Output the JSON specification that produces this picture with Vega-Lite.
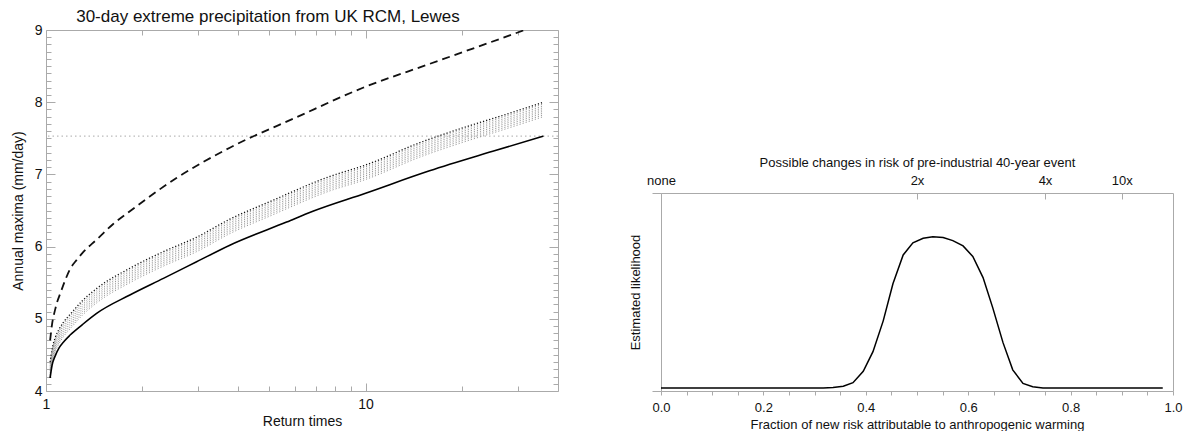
{
  "$schema": "https://vega.github.io/schema/vega-lite/v6.json",
  "padding": {"left": 11, "top": 8, "right": 0, "bottom": 0},
  "spacing": 70,
  "config": {
    "view": {"stroke": null},
    "font": "Liberation Sans",
    "axis": {"domainColor": "#aaaaaa", "tickColor": "#aaaaaa", "labelColor": "#111111", "titleColor": "#111111", "labelFont": "Liberation Sans", "titleFont": "Liberation Sans", "titleFontWeight": "normal", "grid": false}
  },
  "datasets": {
    "solid": [
      {"T": 1.03, "y": 4.18}, {"T": 1.045, "y": 4.36}, {"T": 1.067, "y": 4.48}, {"T": 1.1, "y": 4.6},
      {"T": 1.14, "y": 4.69}, {"T": 1.19, "y": 4.775}, {"T": 1.3, "y": 4.92}, {"T": 1.44, "y": 5.075},
      {"T": 1.83, "y": 5.33}, {"T": 2.33, "y": 5.56}, {"T": 2.96, "y": 5.79}, {"T": 3.76, "y": 6.02},
      {"T": 5.66, "y": 6.34}, {"T": 6.84, "y": 6.49}, {"T": 10, "y": 6.74}, {"T": 15.85, "y": 7.05},
      {"T": 25, "y": 7.32}, {"T": 36, "y": 7.53}
    ],
    "dashed": [
      {"T": 1.03, "y": 4.7}, {"T": 1.045, "y": 4.93}, {"T": 1.067, "y": 5.12}, {"T": 1.085, "y": 5.24},
      {"T": 1.106, "y": 5.34}, {"T": 1.147, "y": 5.53}, {"T": 1.19, "y": 5.69}, {"T": 1.25, "y": 5.82},
      {"T": 1.305, "y": 5.92}, {"T": 1.443, "y": 6.1}, {"T": 1.62, "y": 6.31}, {"T": 1.83, "y": 6.49},
      {"T": 2.56, "y": 6.95}, {"T": 3.76, "y": 7.37}, {"T": 6.07, "y": 7.79}, {"T": 9.81, "y": 8.2},
      {"T": 15.85, "y": 8.53}, {"T": 31, "y": 8.99}, {"T": 40, "y": 9.17}
    ],
    "upper": [
      {"T": 1.03, "y": 4.4}, {"T": 1.045, "y": 4.58}, {"T": 1.067, "y": 4.73}, {"T": 1.1, "y": 4.86},
      {"T": 1.133, "y": 4.95}, {"T": 1.2, "y": 5.08}, {"T": 1.3, "y": 5.25}, {"T": 1.44, "y": 5.42},
      {"T": 1.83, "y": 5.7}, {"T": 2.33, "y": 5.93}, {"T": 2.96, "y": 6.13}, {"T": 3.76, "y": 6.38},
      {"T": 5.0, "y": 6.62}, {"T": 7.71, "y": 6.97}, {"T": 10, "y": 7.13}, {"T": 15, "y": 7.45},
      {"T": 20, "y": 7.64}, {"T": 27, "y": 7.82}, {"T": 36, "y": 8.0}
    ],
    "band": [
      {"m": 1, "T": 1.03, "y": 4.375}, {"m": 1, "T": 1.045, "y": 4.555}, {"m": 1, "T": 1.067, "y": 4.705}, {"m": 1, "T": 1.1, "y": 4.835}, {"m": 1, "T": 1.133, "y": 4.925}, {"m": 1, "T": 1.2, "y": 5.055}, {"m": 1, "T": 1.3, "y": 5.225}, {"m": 1, "T": 1.44, "y": 5.395}, {"m": 1, "T": 1.83, "y": 5.675}, {"m": 1, "T": 2.33, "y": 5.905}, {"m": 1, "T": 2.96, "y": 6.105}, {"m": 1, "T": 3.76, "y": 6.355}, {"m": 1, "T": 5.0, "y": 6.595}, {"m": 1, "T": 7.71, "y": 6.945}, {"m": 1, "T": 10, "y": 7.105}, {"m": 1, "T": 15, "y": 7.425}, {"m": 1, "T": 20, "y": 7.615}, {"m": 1, "T": 27, "y": 7.795}, {"m": 1, "T": 36, "y": 7.975},
      {"m": 2, "T": 1.03, "y": 4.35}, {"m": 2, "T": 1.045, "y": 4.53}, {"m": 2, "T": 1.067, "y": 4.68}, {"m": 2, "T": 1.1, "y": 4.81}, {"m": 2, "T": 1.133, "y": 4.9}, {"m": 2, "T": 1.2, "y": 5.03}, {"m": 2, "T": 1.3, "y": 5.2}, {"m": 2, "T": 1.44, "y": 5.37}, {"m": 2, "T": 1.83, "y": 5.65}, {"m": 2, "T": 2.33, "y": 5.88}, {"m": 2, "T": 2.96, "y": 6.08}, {"m": 2, "T": 3.76, "y": 6.33}, {"m": 2, "T": 5.0, "y": 6.57}, {"m": 2, "T": 7.71, "y": 6.92}, {"m": 2, "T": 10, "y": 7.08}, {"m": 2, "T": 15, "y": 7.4}, {"m": 2, "T": 20, "y": 7.59}, {"m": 2, "T": 27, "y": 7.77}, {"m": 2, "T": 36, "y": 7.95},
      {"m": 3, "T": 1.03, "y": 4.325}, {"m": 3, "T": 1.045, "y": 4.505}, {"m": 3, "T": 1.067, "y": 4.655}, {"m": 3, "T": 1.1, "y": 4.785}, {"m": 3, "T": 1.133, "y": 4.875}, {"m": 3, "T": 1.2, "y": 5.005}, {"m": 3, "T": 1.3, "y": 5.175}, {"m": 3, "T": 1.44, "y": 5.345}, {"m": 3, "T": 1.83, "y": 5.625}, {"m": 3, "T": 2.33, "y": 5.855}, {"m": 3, "T": 2.96, "y": 6.055}, {"m": 3, "T": 3.76, "y": 6.305}, {"m": 3, "T": 5.0, "y": 6.545}, {"m": 3, "T": 7.71, "y": 6.895}, {"m": 3, "T": 10, "y": 7.055}, {"m": 3, "T": 15, "y": 7.375}, {"m": 3, "T": 20, "y": 7.565}, {"m": 3, "T": 27, "y": 7.745}, {"m": 3, "T": 36, "y": 7.925},
      {"m": 4, "T": 1.03, "y": 4.3}, {"m": 4, "T": 1.045, "y": 4.48}, {"m": 4, "T": 1.067, "y": 4.63}, {"m": 4, "T": 1.1, "y": 4.76}, {"m": 4, "T": 1.133, "y": 4.85}, {"m": 4, "T": 1.2, "y": 4.98}, {"m": 4, "T": 1.3, "y": 5.15}, {"m": 4, "T": 1.44, "y": 5.32}, {"m": 4, "T": 1.83, "y": 5.6}, {"m": 4, "T": 2.33, "y": 5.83}, {"m": 4, "T": 2.96, "y": 6.03}, {"m": 4, "T": 3.76, "y": 6.28}, {"m": 4, "T": 5.0, "y": 6.52}, {"m": 4, "T": 7.71, "y": 6.87}, {"m": 4, "T": 10, "y": 7.03}, {"m": 4, "T": 15, "y": 7.35}, {"m": 4, "T": 20, "y": 7.54}, {"m": 4, "T": 27, "y": 7.72}, {"m": 4, "T": 36, "y": 7.9},
      {"m": 5, "T": 1.03, "y": 4.275}, {"m": 5, "T": 1.045, "y": 4.455}, {"m": 5, "T": 1.067, "y": 4.605}, {"m": 5, "T": 1.1, "y": 4.735}, {"m": 5, "T": 1.133, "y": 4.825}, {"m": 5, "T": 1.2, "y": 4.955}, {"m": 5, "T": 1.3, "y": 5.125}, {"m": 5, "T": 1.44, "y": 5.295}, {"m": 5, "T": 1.83, "y": 5.575}, {"m": 5, "T": 2.33, "y": 5.805}, {"m": 5, "T": 2.96, "y": 6.005}, {"m": 5, "T": 3.76, "y": 6.255}, {"m": 5, "T": 5.0, "y": 6.495}, {"m": 5, "T": 7.71, "y": 6.845}, {"m": 5, "T": 10, "y": 7.005}, {"m": 5, "T": 15, "y": 7.325}, {"m": 5, "T": 20, "y": 7.515}, {"m": 5, "T": 27, "y": 7.695}, {"m": 5, "T": 36, "y": 7.875},
      {"m": 6, "T": 1.03, "y": 4.25}, {"m": 6, "T": 1.045, "y": 4.43}, {"m": 6, "T": 1.067, "y": 4.58}, {"m": 6, "T": 1.1, "y": 4.71}, {"m": 6, "T": 1.133, "y": 4.8}, {"m": 6, "T": 1.2, "y": 4.93}, {"m": 6, "T": 1.3, "y": 5.1}, {"m": 6, "T": 1.44, "y": 5.27}, {"m": 6, "T": 1.83, "y": 5.55}, {"m": 6, "T": 2.33, "y": 5.78}, {"m": 6, "T": 2.96, "y": 5.98}, {"m": 6, "T": 3.76, "y": 6.23}, {"m": 6, "T": 5.0, "y": 6.47}, {"m": 6, "T": 7.71, "y": 6.82}, {"m": 6, "T": 10, "y": 6.98}, {"m": 6, "T": 15, "y": 7.3}, {"m": 6, "T": 20, "y": 7.49}, {"m": 6, "T": 27, "y": 7.67}, {"m": 6, "T": 36, "y": 7.85},
      {"m": 7, "T": 1.03, "y": 4.225}, {"m": 7, "T": 1.045, "y": 4.405}, {"m": 7, "T": 1.067, "y": 4.555}, {"m": 7, "T": 1.1, "y": 4.685}, {"m": 7, "T": 1.133, "y": 4.775}, {"m": 7, "T": 1.2, "y": 4.905}, {"m": 7, "T": 1.3, "y": 5.075}, {"m": 7, "T": 1.44, "y": 5.245}, {"m": 7, "T": 1.83, "y": 5.525}, {"m": 7, "T": 2.33, "y": 5.755}, {"m": 7, "T": 2.96, "y": 5.955}, {"m": 7, "T": 3.76, "y": 6.205}, {"m": 7, "T": 5.0, "y": 6.445}, {"m": 7, "T": 7.71, "y": 6.795}, {"m": 7, "T": 10, "y": 6.955}, {"m": 7, "T": 15, "y": 7.275}, {"m": 7, "T": 20, "y": 7.465}, {"m": 7, "T": 27, "y": 7.645}, {"m": 7, "T": 36, "y": 7.825},
      {"m": 8, "T": 1.03, "y": 4.2}, {"m": 8, "T": 1.045, "y": 4.38}, {"m": 8, "T": 1.067, "y": 4.53}, {"m": 8, "T": 1.1, "y": 4.66}, {"m": 8, "T": 1.133, "y": 4.75}, {"m": 8, "T": 1.2, "y": 4.88}, {"m": 8, "T": 1.3, "y": 5.05}, {"m": 8, "T": 1.44, "y": 5.22}, {"m": 8, "T": 1.83, "y": 5.5}, {"m": 8, "T": 2.33, "y": 5.73}, {"m": 8, "T": 2.96, "y": 5.93}, {"m": 8, "T": 3.76, "y": 6.18}, {"m": 8, "T": 5.0, "y": 6.42}, {"m": 8, "T": 7.71, "y": 6.77}, {"m": 8, "T": 10, "y": 6.93}, {"m": 8, "T": 15, "y": 7.25}, {"m": 8, "T": 20, "y": 7.44}, {"m": 8, "T": 27, "y": 7.62}, {"m": 8, "T": 36, "y": 7.8}
    ],
    "level": [{"y": 7.53}],
    "far": [
      {"f": 0.0, "p": 0}, {"f": 0.317, "p": 0}, {"f": 0.336, "p": 0.003}, {"f": 0.356, "p": 0.012},
      {"f": 0.375, "p": 0.035}, {"f": 0.395, "p": 0.11}, {"f": 0.414, "p": 0.24}, {"f": 0.434, "p": 0.444},
      {"f": 0.453, "p": 0.69}, {"f": 0.473, "p": 0.88}, {"f": 0.492, "p": 0.96}, {"f": 0.512, "p": 0.99},
      {"f": 0.531, "p": 1.0}, {"f": 0.551, "p": 0.995}, {"f": 0.57, "p": 0.975}, {"f": 0.59, "p": 0.94},
      {"f": 0.609, "p": 0.87}, {"f": 0.629, "p": 0.73}, {"f": 0.648, "p": 0.53}, {"f": 0.668, "p": 0.3},
      {"f": 0.687, "p": 0.12}, {"f": 0.707, "p": 0.03}, {"f": 0.726, "p": 0.008}, {"f": 0.746, "p": 0},
      {"f": 0.98, "p": 0}
    ]
  },
  "hconcat": [
    {
      "width": 512,
      "height": 361,
      "title": {"text": "30-day extreme precipitation from UK RCM, Lewes", "fontSize": 17, "fontWeight": "normal", "font": "Liberation Sans", "color": "#111111", "frame": "group", "dx": -34, "offset": -3},
      "resolve": {"axis": {"x": "independent", "y": "independent"}},
      "layer": [
        {
          "data": {"name": "level"},
          "mark": {"type": "rule", "color": "#bbbbbb", "strokeDash": [1.5, 3], "strokeWidth": 1.2},
          "encoding": {
            "y": {"field": "y", "type": "quantitative", "scale": {"domain": [4, 9], "nice": false, "zero": false}, "axis": null}
          }
        },
        {
          "data": {"name": "band"},
          "mark": {"type": "line", "color": "#999999", "strokeWidth": 1, "strokeDash": [1.2, 2], "interpolate": "monotone"},
          "encoding": {
            "detail": {"field": "m", "type": "nominal"},
            "x": {"field": "T", "type": "quantitative", "scale": {"type": "log", "domain": [1, 40], "nice": false},
                  "axis": {"orient": "bottom", "values": [2, 3, 4, 5, 6, 7, 8, 9, 20, 30], "tickSize": -5, "labels": false, "domain": false, "title": null}},
            "y": {"field": "y", "type": "quantitative", "scale": {"domain": [4, 9], "nice": false, "zero": false},
                  "axis": {"orient": "left", "values": [4.1, 4.2, 4.3, 4.4, 4.5, 4.6, 4.7, 4.8, 4.9, 5.1, 5.2, 5.3, 5.4, 5.5, 5.6, 5.7, 5.8, 5.9, 6.1, 6.2, 6.3, 6.4, 6.5, 6.6, 6.7, 6.8, 6.9, 7.1, 7.2, 7.3, 7.4, 7.5, 7.6, 7.7, 7.8, 7.9, 8.1, 8.2, 8.3, 8.4, 8.5, 8.6, 8.7, 8.8, 8.9], "tickSize": -5, "labels": false, "domain": false, "title": null}}
          }
        },
        {
          "data": {"name": "upper"},
          "mark": {"type": "line", "color": "#111111", "strokeWidth": 1.3, "strokeDash": [1.2, 2], "interpolate": "monotone"},
          "encoding": {
            "x": {"field": "T", "type": "quantitative", "scale": {"type": "log", "domain": [1, 40], "nice": false},
                  "axis": {"orient": "top", "values": [2, 3, 4, 5, 6, 7, 8, 9, 20, 30], "tickSize": -5, "labels": false, "domain": false, "title": null}},
            "y": {"field": "y", "type": "quantitative", "scale": {"domain": [4, 9], "nice": false, "zero": false},
                  "axis": {"orient": "right", "values": [4.1, 4.2, 4.3, 4.4, 4.5, 4.6, 4.7, 4.8, 4.9, 5.1, 5.2, 5.3, 5.4, 5.5, 5.6, 5.7, 5.8, 5.9, 6.1, 6.2, 6.3, 6.4, 6.5, 6.6, 6.7, 6.8, 6.9, 7.1, 7.2, 7.3, 7.4, 7.5, 7.6, 7.7, 7.8, 7.9, 8.1, 8.2, 8.3, 8.4, 8.5, 8.6, 8.7, 8.8, 8.9], "tickSize": -5, "labels": false, "domain": false, "title": null}}
          }
        },
        {
          "data": {"name": "solid"},
          "mark": {"type": "line", "color": "#000000", "strokeWidth": 1.6, "interpolate": "monotone"},
          "encoding": {
            "x": {"field": "T", "type": "quantitative", "scale": {"type": "log", "domain": [1, 40], "nice": false},
                  "axis": {"orient": "bottom", "values": [1, 10], "format": "d", "tickSize": -8, "labelPadding": 14, "labelFontSize": 14, "labelFlush": false, "title": "Return times", "titleFontSize": 14, "titlePadding": 3}},
            "y": {"field": "y", "type": "quantitative", "scale": {"domain": [4, 9], "nice": false, "zero": false},
                  "axis": {"orient": "left", "values": [4, 5, 6, 7, 8, 9], "format": "d", "tickSize": -9, "labelPadding": 13, "labelFontSize": 14, "title": "Annual maxima (mm/day)", "titleFontSize": 14, "titlePadding": 9}}
          }
        },
        {
          "data": {"name": "dashed"},
          "mark": {"type": "line", "color": "#111111", "strokeWidth": 1.8, "strokeDash": [8, 5], "interpolate": "monotone", "clip": true},
          "encoding": {
            "x": {"field": "T", "type": "quantitative", "scale": {"type": "log", "domain": [1, 40], "nice": false},
                  "axis": {"orient": "top", "values": [10], "tickSize": -8, "labels": false, "title": null}},
            "y": {"field": "y", "type": "quantitative", "scale": {"domain": [4, 9], "nice": false, "zero": false},
                  "axis": {"orient": "right", "values": [4, 5, 6, 7, 8, 9], "tickSize": -9, "labels": false, "title": null}}
          }
        }
      ]
    },
    {
      "spacing": 20,
      "vconcat": [
        {"width": 400, "height": 106, "data": {"values": []}, "mark": "point"},
        {
          "width": 512,
          "height": 198,
          "resolve": {"axis": {"x": "independent", "y": "independent"}},
          "layer": [
            {
              "data": {"name": "far"},
              "mark": {"type": "line", "color": "#000000", "strokeWidth": 1.5},
              "encoding": {
                "x": {"field": "f", "type": "quantitative", "scale": {"domain": [0, 1], "nice": false, "zero": false},
                      "axis": {"orient": "bottom", "values": [0, 0.05, 0.1, 0.15, 0.2, 0.25, 0.3, 0.35, 0.4, 0.45, 0.5, 0.55, 0.6, 0.65, 0.7, 0.75, 0.8, 0.85, 0.9, 0.95, 1], "format": ".2f",
                               "labelExpr": "indexof(['0.00','0.20','0.40','0.60','0.80','1.00'], datum.label) >= 0 ? slice(datum.label, 0, 3) : ''",
                               "tickSize": 4, "labelPadding": 6, "labelFontSize": 13, "labelFlush": false,
                               "title": "Fraction of new risk attributable to anthropogenic warming", "titleFontSize": 13, "titlePadding": 4}},
                "y": {"field": "p", "type": "quantitative", "scale": {"domain": [-0.02, 1.29], "nice": false, "zero": false},
                      "axis": {"orient": "left", "values": [-0.02, 1.29], "labels": false, "tickSize": 9, "title": "Estimated likelihood", "titleFontSize": 13, "titlePadding": 9}}
              }
            },
            {
              "data": {"name": "far"},
              "mark": {"type": "line", "strokeOpacity": 0},
              "encoding": {
                "x": {"field": "f", "type": "quantitative", "scale": {"domain": [0, 1], "nice": false, "zero": false},
                      "axis": {"orient": "top", "values": [0, 0.5, 0.75, 0.9],
                               "labelExpr": "datum.value == 0 ? 'none' : datum.value == 0.5 ? '2x' : datum.value == 0.75 ? '4x' : '10x'",
                               "tickSize": -6, "labelPadding": 12, "labelFontSize": 13, "labelFlush": false,
                               "title": "Possible changes in risk of pre-industrial 40-year event", "titleFontSize": 13, "titlePadding": 5}},
                "y": {"field": "p", "type": "quantitative", "scale": {"domain": [-0.02, 1.29], "nice": false, "zero": false},
                      "axis": {"orient": "right", "labels": false, "ticks": false, "title": null}}
              }
            }
          ]
        }
      ]
    }
  ]
}
